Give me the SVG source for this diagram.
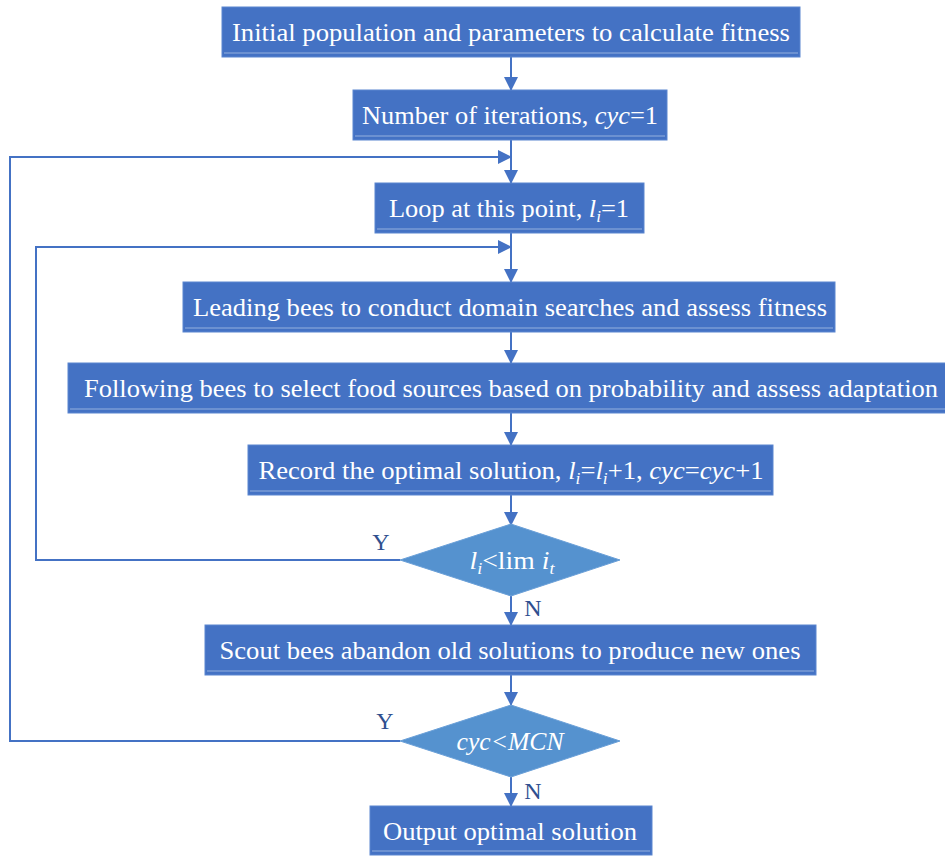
<svg xmlns="http://www.w3.org/2000/svg" width="945" height="856" viewBox="0 0 945 856">
<style>
.box{fill:#4472C4;stroke:#5B86D0;stroke-width:1}
.hl{stroke:#A9BFE6;stroke-width:1.2;opacity:0.8}
.dia{fill:#5592CF;stroke:#6BA0D8;stroke-width:1}
.t{font-family:"Liberation Serif","Times New Roman",serif;font-size:26px;fill:#FFFFFF;text-anchor:middle}
.lbl{font-family:"Liberation Serif","Times New Roman",serif;font-size:24px;fill:#2F4F8F;text-anchor:middle}
.i{font-style:italic}
.c{fill:none;stroke:#4472C4;stroke-width:2}
</style>
<defs>
<marker id="ah" markerUnits="userSpaceOnUse" markerWidth="16" markerHeight="16" refX="13" refY="7" orient="auto">
<path d="M0,0 L14,7 L0,14 Z" fill="#4472C4"/>
</marker>
</defs>
<g id="connectors">
<line class="c" x1="511" y1="57" x2="511" y2="90" marker-end="url(#ah)"/>
<line class="c" x1="511" y1="140" x2="511" y2="183" marker-end="url(#ah)"/>
<line class="c" x1="511" y1="233" x2="511" y2="282" marker-end="url(#ah)"/>
<line class="c" x1="511" y1="332" x2="511" y2="363" marker-end="url(#ah)"/>
<line class="c" x1="511" y1="413" x2="511" y2="445" marker-end="url(#ah)"/>
<line class="c" x1="511" y1="495" x2="511" y2="525" marker-end="url(#ah)"/>
<line class="c" x1="511" y1="596" x2="511" y2="625" marker-end="url(#ah)"/>
<line class="c" x1="511" y1="675" x2="511" y2="705" marker-end="url(#ah)"/>
<line class="c" x1="511" y1="777" x2="511" y2="806" marker-end="url(#ah)"/>
<polyline class="c" points="400,560 36,560 36,247 511,247" marker-end="url(#ah)"/>
<polyline class="c" points="400,741 10,741 10,157 511,157" marker-end="url(#ah)"/>
<text class="lbl" x="381" y="550">Y</text>
<text class="lbl" x="385" y="729">Y</text>
<text class="lbl" x="533" y="616">N</text>
<text class="lbl" x="533" y="799">N</text>
</g>
<g id="n1">
<rect class="box" x="222" y="7" width="578" height="50"/>
<line class="hl" x1="224" y1="53" x2="798" y2="53"/>
<text class="t" x="511" y="41" textLength="558" lengthAdjust="spacingAndGlyphs">Initial population and parameters to calculate fitness</text>
</g>
<g id="n2">
<rect class="box" x="353" y="90" width="314" height="50"/>
<line class="hl" x1="355" y1="136" x2="665" y2="136"/>
<text class="t" x="510" y="124" textLength="296" lengthAdjust="spacingAndGlyphs">Number of iterations, <tspan class="i">cyc</tspan>=1</text>
</g>
<g id="n3">
<rect class="box" x="375" y="183" width="269" height="50"/>
<line class="hl" x1="377" y1="229" x2="642" y2="229"/>
<text class="t" x="509" y="217" textLength="240" lengthAdjust="spacingAndGlyphs">Loop at this point, <tspan class="i">l</tspan><tspan class="i" font-size="17" dy="5">i</tspan><tspan dy="-5">=1</tspan></text>
</g>
<g id="n4">
<rect class="box" x="183" y="282" width="652" height="50"/>
<line class="hl" x1="185" y1="328" x2="833" y2="328"/>
<text class="t" x="510" y="316" textLength="634" lengthAdjust="spacingAndGlyphs">Leading bees to conduct domain searches and assess fitness</text>
</g>
<g id="n5">
<rect class="box" x="68" y="363" width="878" height="50"/>
<line class="hl" x1="70" y1="409" x2="945" y2="409"/>
<text class="t" x="511" y="397" textLength="854" lengthAdjust="spacingAndGlyphs">Following bees to select food sources based on probability and assess adaptation</text>
</g>
<g id="n6">
<rect class="box" x="248" y="445" width="525" height="50"/>
<line class="hl" x1="250" y1="491" x2="771" y2="491"/>
<text class="t" x="511" y="479" textLength="505" lengthAdjust="spacingAndGlyphs">Record the optimal solution, <tspan class="i">l</tspan><tspan class="i" font-size="17" dy="5">i</tspan><tspan dy="-5">=</tspan><tspan class="i">l</tspan><tspan class="i" font-size="17" dy="5">i</tspan><tspan dy="-5">+1, </tspan><tspan class="i">cyc</tspan>=<tspan class="i">cyc</tspan>+1</text>
</g>
<g id="d1">
<polygon class="dia" points="511,524 620,560 511,596 400,560"/>
<text class="t" x="512" y="569" textLength="85" lengthAdjust="spacingAndGlyphs"><tspan class="i">l</tspan><tspan class="i" font-size="17" dy="5">i</tspan><tspan dy="-5">&lt;lim </tspan><tspan class="i">i</tspan><tspan class="i" font-size="17" dy="5">t</tspan></text>
</g>
<g id="n7">
<rect class="box" x="205" y="625" width="611" height="50"/>
<line class="hl" x1="207" y1="671" x2="814" y2="671"/>
<text class="t" x="510" y="659" textLength="581" lengthAdjust="spacingAndGlyphs">Scout bees abandon old solutions to produce new ones</text>
</g>
<g id="d2">
<polygon class="dia" points="511,705 620,741 511,777 400,741"/>
<text class="t i" x="510" y="750" textLength="107" lengthAdjust="spacingAndGlyphs">cyc&lt;MCN</text>
</g>
<g id="n8">
<rect class="box" x="370" y="806" width="282" height="49"/>
<line class="hl" x1="372" y1="851" x2="650" y2="851"/>
<text class="t" x="510" y="840" textLength="254" lengthAdjust="spacingAndGlyphs">Output optimal solution</text>
</g>
</svg>
